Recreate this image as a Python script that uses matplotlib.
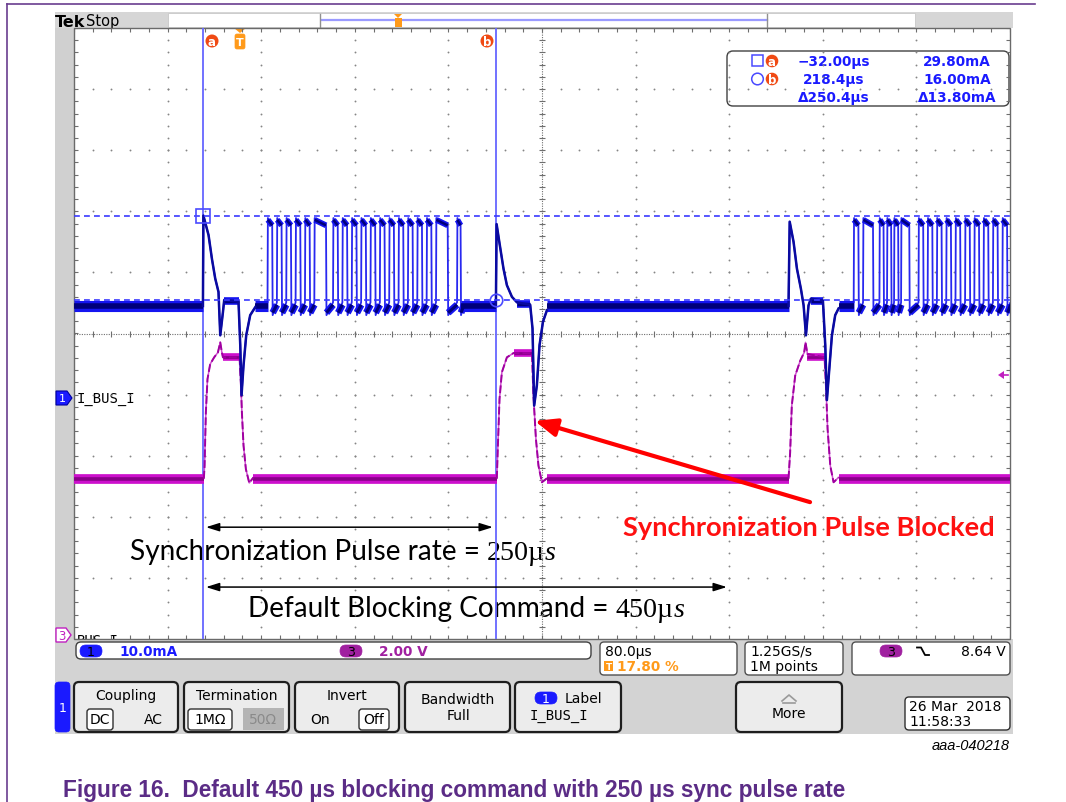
import numpy as np
import matplotlib.pyplot as plt
from matplotlib.patches import Rectangle, FancyBboxPatch, Polygon, Circle

# scope settings taken from the on-screen readouts
T_DIV = 80.0        # us/div
T0 = -142.4         # left edge of the record, us (trigger at 17.80 %)
T1 = T0 + 10 * T_DIV
CH1_DIV = 10.0      # mA/div
CH1_POS = -1.05     # ch1 ground marker, div
CH3_DIV = 2.0       # V/div
CH3_POS = -5.0      # ch3 ground marker, div

cur_a_t, cur_b_t = -32.00, 218.4    # us
cur_a_i, cur_b_i = 29.80, 16.00     # mA

# ch1 (I_BUS_I), current around each synchronization pulse: us, mA
I_BASE = 15.0
pa_t = [-32.2, -31.8, -27.4, -24.5, -21.7, -18.9, -17.4, -15.1, -14.0, -1.8, -0.3, 0.8, 2.5, 4.8, 8.2, 12.5]
pa_i = [15.0, 29.8, 26.6, 22.7, 19.5, 17.3, 10.2, 14.0, 16.0, 15.7, 8.6, 0.4, 5.3, 10.2, 13.5, 14.8]
pb_t = [218.2, 218.8, 221.1, 224.7, 227.6, 231.9, 236.2, 247.5, 249.5, 250.9, 253.2, 255.5, 258.4, 261.8]
pb_i = [15.0, 28.4, 25.5, 21.1, 18.4, 16.5, 15.6, 15.2, 11.3, -1.3, 2.0, 8.6, 12.4, 14.3]
pc_t = [468.3, 469.3, 472.6, 475.5, 478.9, 481.2, 483.2, 485.4, 487.4, 497.7, 499.7, 501.1, 503.4, 505.4, 508.2, 511.1]
pc_i = [15.0, 28.8, 25.5, 21.1, 17.8, 15.1, 10.2, 15.1, 16.2, 15.9, 8.6, -0.4, 5.3, 10.2, 13.5, 14.6]

# bus traffic bursts: rising edges and high time, us
tr1_rise = [23, 31, 39, 47, 55, 63, 79, 87, 95, 103, 111, 119, 127, 135, 143, 151, 159, 167, 185]
tr1_high = [4, 4, 4, 4, 4, 10, 4, 4, 4, 4, 4, 4, 4, 4, 4, 4, 4, 10, 3]
tr2_rise = [524, 532, 546, 552.5, 558.5, 564.5, 579.4, 587.2, 595.1, 603.1, 611, 619.2, 627.1, 635, 643, 651.1]
tr2_high = [4, 8.5, 3.5, 3.5, 3.5, 7, 4, 4, 4, 4, 4, 4, 4, 4, 4, 4]
I_TOP, I_LOW = 29.4, 14.4

# ch3 (BUS_I), voltage around each pulse: us, V
V_BASE = 5.25
ma_t = [-31.4, -30.8, -29.7, -28.3, -26.0, -22.6, -19.4, -17.4, -16.0, -15.1, -0.9, 0.3, 1.1, 2.5, 4.5, 7.4, 11.0]
ma_v = [5.25, 5.67, 7.42, 8.51, 9.0, 9.22, 9.38, 9.71, 9.38, 9.22, 9.22, 8.29, 7.42, 6.33, 5.56, 5.11, 5.29]
mb_t = [219.0, 219.9, 221.3, 223.3, 227.6, 233.3, 249.0, 250.3, 252.4, 254.6, 257.5, 261.8]
mb_v = [5.25, 6.33, 7.86, 8.73, 9.22, 9.36, 9.36, 7.96, 6.55, 5.67, 5.13, 5.26]
mc_t = [468.3, 469.7, 471.1, 474.0, 478.3, 481.7, 482.8, 484.5, 499.1, 500.3, 501.7, 504.0, 506.8, 511.1]
mc_v = [5.25, 6.11, 7.64, 8.62, 9.11, 9.38, 9.71, 9.33, 9.22, 8.29, 6.87, 5.67, 5.13, 5.29]


def d1(i):
    return np.asarray(i, dtype=float) / CH1_DIV + CH1_POS


def d3(v):
    return np.asarray(v, dtype=float) / CH3_DIV + CH3_POS


def burst(rise, high):
    # square bursts: sharp edges, drooping top, undershoot and recovery after the fall
    t, v, tops, lows = [], [], [], []
    for k, (r, w) in enumerate(zip(rise, high)):
        nxt = rise[k + 1] if k + 1 < len(rise) else r + w + 3.0
        t += [r, r + 0.3, r + w, r + w + 0.4, nxt]
        v += [I_LOW + 1.2, I_TOP, I_TOP - 1.2, I_LOW - 0.9, I_LOW + 1.2]
        tops.append((r + 0.3, r + w, I_TOP - 0.3, I_TOP - 1.2))
        lows.append((r + w + 0.4, nxt, I_LOW - 0.5, I_LOW + 0.8))
    return t, v, tops, lows


W, H = 1066, 803
fig = plt.figure(figsize=(W / 100, H / 100), dpi=100)
ui = fig.add_axes([0, 0, 1, 1])
ui.set_xlim(0, W)
ui.set_ylim(H, 0)
ui.axis('off')
R = fig.canvas.get_renderer()

GX0, GX1, GY0, GY1 = 74, 1010, 29, 640
ax = fig.add_axes([GX0 / W, 1 - GY1 / H, (GX1 - GX0) / W, (GY1 - GY0) / H])
ax.set_xlim(T0, T1)
ax.set_ylim(-5, 5)
ax.axis('off')

UI = 'DejaVu Sans'
MONO = 'DejaVu Sans Mono'
BLUE = '#1a1aff'
NAVY = '#00007a'


def rbox(x0, y0, x1, y1, fc='white', ec='#505050', lw=1.0, r=4, z=2):
    ui.add_patch(FancyBboxPatch((x0, y0), x1 - x0, y1 - y0,
                                boxstyle='round,pad=0,rounding_size=%g' % r,
                                fc=fc, ec=ec, lw=lw, zorder=z))


def pill(x, y, txt, fc, tc='black'):
    rbox(x - 11, y - 6, x + 11, y + 6, fc=fc, ec=fc, lw=0.5, r=6, z=4)
    ui.text(x, y + 0.5, txt, ha='center', va='center', fontsize=9, color=tc,
            family=UI, zorder=5)


def runs(x0, x1, y, parts, color='black'):
    arts, x = [], x0
    for s, kw in parts:
        t = ui.text(x, y, s, ha='left', va='baseline', fontsize=10, color=color, zorder=8, **kw)
        arts.append(t)
        x += t.get_window_extent(R).width
    k = (x1 - x0) / (x - x0)
    x = x0
    for t in arts:
        t.set_fontsize(10 * k)
        t.set_x(x)
        x += t.get_window_extent(R).width


def band(segs, conv, outer, inner, w_out, w_in, z):
    for seg in segs:
        a, b, va = seg[:3]
        vb = seg[3] if len(seg) > 3 else va
        ax.plot([a, b], conv([va, vb]), color=outer, lw=w_out, solid_capstyle='butt', zorder=z)
        ax.plot([a, b], conv([va, vb]), color=inner, lw=w_in, solid_capstyle='butt', zorder=z + 0.1)


# ---- frame, panels ----
ui.plot([7, 7], [5, 803], color='#6a3d8f', lw=1.2)
ui.plot([7, 1035], [5, 5], color='#6a3d8f', lw=1.2)
ui.add_patch(Rectangle((55, 13), 958, 16, fc='#d6d6d6', ec='none', zorder=0))
ui.add_patch(Rectangle((55, 29), 19, 611, fc='#d0d0d0', ec='none', zorder=0))
ui.add_patch(Rectangle((GX0, GY0), GX1 - GX0, GY1 - GY0, fc='white', ec='none', zorder=0))
ui.add_patch(Rectangle((55, 640), 958, 95, fc='#d3d3d3', ec='none', zorder=3))
ui.add_patch(Rectangle((168, 14), 747, 14, fc='white', ec='#c8c8c8', lw=0.6, zorder=1))
ui.plot([322, 767], [21, 21], color='#9a9aff', lw=1.6, zorder=2)
ui.plot([320, 320], [15, 28], color='#909090', lw=1.0, zorder=2)
ui.plot([767, 767], [15, 28], color='#909090', lw=1.0, zorder=2)
ui.add_patch(Polygon([[394, 15], [402, 15], [398, 19]], closed=True, fc='#ff9a1a', ec='none', zorder=3))
ui.add_patch(Rectangle((395, 19), 7, 9, fc='#ff9a1a', ec='none', zorder=3))
ui.text(55, 27, 'Tek', fontsize=11.5, weight='bold', family=UI, va='baseline', zorder=4)
ui.text(86, 26, 'Stop', fontsize=10.5, family=UI, va='baseline', zorder=4)

# ---- graticule ----
pxt = (GX1 - GX0) / (T1 - T0)      # px per us
pxd = (GY1 - GY0) / 10.0           # px per div
GRID = '#858585'
yy = np.arange(-5, 5.001, 0.2)
xx = T0 + np.arange(0, 10.001, 0.2) * T_DIV
tc = T0 + 5 * T_DIV
for k in range(1, 10):
    if k != 5:
        ax.scatter(np.full_like(yy, T0 + k * T_DIV), yy, s=1.8, c=GRID, lw=0, zorder=1)
for d in range(-4, 5):
    if d != 0:
        ax.scatter(xx, np.full_like(xx, d), s=1.8, c=GRID, lw=0, zorder=1)
ax.axhline(0, color='#6e6e6e', lw=0.8, ls=(0, (1, 1.2)), zorder=1)
ax.axvline(tc, color='#6e6e6e', lw=0.8, ls=(0, (1, 1.2)), zorder=1)
ax.vlines(xx, -3 / pxd, 3 / pxd, color='#6e6e6e', lw=0.8, zorder=1)
ax.hlines(yy, tc - 3 / pxt, tc + 3 / pxt, color='#6e6e6e', lw=0.8, zorder=1)
ax.vlines(xx, 5 - 4 / pxd, 5, color='#6e6e6e', lw=0.8, zorder=1)
ax.vlines(xx, -5, -5 + 4 / pxd, color='#6e6e6e', lw=0.8, zorder=1)
ax.hlines(yy, T0, T0 + 4 / pxt, color='#6e6e6e', lw=0.8, zorder=1)
ax.hlines(yy, T1 - 4 / pxt, T1, color='#6e6e6e', lw=0.8, zorder=1)
ax.add_patch(Rectangle((T0, -5), T1 - T0, 10, fill=False, ec='#6a6a6a', lw=1.0, zorder=2, clip_on=False))

# ---- cursors ----
ax.vlines([cur_a_t, cur_b_t], -5, 5, color='#6666ff', lw=1.3, zorder=2)

# ---- ch3 trace ----
t3 = [T0] + ma_t + mb_t + mc_t + [T1]
v3 = [V_BASE] + ma_v + mb_v + mc_v + [V_BASE]
ax.plot(t3, d3(v3), color='#d050d0', lw=1.1, zorder=3)
band([(T0, -31.4, V_BASE), (11.0, 219.0, V_BASE), (261.8, 468.3, V_BASE), (511.1, T1, V_BASE)],
     d3, '#cc10cc', '#8a008a', 7.0, 2.6, 3)
band([(-15.1, -0.9, 9.22), (233.3, 249.0, 9.36), (484.5, 499.1, 9.22)],
     d3, '#cc10cc', '#8a008a', 5.5, 2.0, 3)
for pt, pv in [(ma_t, ma_v), (mb_t, mb_v), (mc_t, mc_v)]:
    ax.plot(pt, d3(pv), color='#a000a0', lw=1.4, ls=(0, (4, 1.5)), zorder=3.2)

# ---- ch1 trace ----
b1t, b1v, tops1, lows1 = burst(tr1_rise, tr1_high)
b2t, b2v, tops2, lows2 = burst(tr2_rise, tr2_high)
t1 = [T0] + pa_t + b1t + pb_t + pc_t + b2t + [T1]
i1 = [I_BASE] + pa_i + b1v + pb_i + pc_i + b2v + [I_BASE]
ax.plot(t1, d1(i1), color='#2828f0', lw=1.3, zorder=4)
band([(T0, -32.2, I_BASE), (12.5, 23.0, I_BASE), (188.0, 218.2, I_BASE),
      (261.8, 468.3, I_BASE), (511.1, 524.0, I_BASE)], d1, '#1515f0', NAVY, 8.0, 4.0, 4)
band([(-14.0, -1.8, 15.8), (236.2, 247.5, 15.3), (487.4, 497.7, 15.9)], d1, '#1515f0', NAVY, 5.5, 2.5, 4)
band(tops1 + tops2, d1, '#1515f0', NAVY, 4.2, 1.8, 4)
band(lows1 + lows2, d1, '#1515f0', NAVY, 5.0, 2.2, 4)
for pt, pi in [(pa_t, pa_i), (pb_t, pb_i), (pc_t, pc_i)]:
    ax.plot(pt, d1(pi), color='#0a0aa0', lw=1.8, zorder=4.2)

# horizontal cursor levels
ax.hlines(d1([cur_a_i, cur_b_i]), T0, T1, color='#3a3aff', lw=1.2, ls=(0, (3.5, 2.5)), zorder=6)
ax.plot([cur_a_t], d1([cur_a_i]), marker='s', ms=10, mfc='none', mec='#4a4aff', mew=1.2, zorder=7)
ax.plot([cur_b_t], d1([cur_b_i]), marker='o', ms=9, mfc='none', mec='#4a4aff', mew=1.2, zorder=7)

# ---- annotations ----
ax.annotate('', xy=(cur_a_t, -3.17), xytext=(cur_a_t + 250, -3.17), zorder=8,
            arrowprops=dict(arrowstyle='<|-|>,head_length=0.8,head_width=0.25', color='black', lw=1.1))
ax.annotate('', xy=(cur_a_t, -4.15), xytext=(cur_a_t + 450, -4.15), zorder=8,
            arrowprops=dict(arrowstyle='<|-|>,head_length=0.8,head_width=0.25', color='black', lw=1.1))
ax.annotate('', xy=(251.3, -1.43), xytext=(486.7, -2.76), zorder=8, annotation_clip=False,
            arrowprops=dict(arrowstyle='-|>,head_length=1.1,head_width=0.45', color='#ff0000',
                            lw=3.0, mutation_scale=12, shrinkA=0, shrinkB=0))

runs(130, 557, 560, [('Synchronization Pulse rate = ', dict(family='Lato')),
                     ('250\u00b5', dict(family='Liberation Serif')),
                     ('s', dict(family='Liberation Serif', style='italic'))])
runs(248, 685, 617, [('Default Blocking Command = ', dict(family='Lato')),
                     ('450\u00b5', dict(family='Liberation Serif')),
                     ('s', dict(family='Liberation Serif', style='italic'))])
runs(623, 997, 536, [('Synchronization Pulse Blocked', dict(family='Lato', weight='bold'))], color='#ff1010')

# ---- markers on the graticule ----
for x, s in [(212, 'a'), (487, 'b')]:
    ui.add_patch(Circle((x, 42), 6.5, fc='#f04a14', ec='none', zorder=6))
    ui.text(x, 42.5, s, ha='center', va='center', color='white', fontsize=8.5, weight='bold', family=UI, zorder=7)
ui.add_patch(Polygon([[234, 29], [246, 29], [240, 34]], closed=True, fc='#ff9a1a', ec='none', zorder=6))
rbox(235, 35, 245, 50, fc='#ff9a1a', ec='#ff9a1a', lw=0.5, r=2, z=6)
ui.text(240, 43, 'T', ha='center', va='center', color='white', fontsize=8, weight='bold', family=UI, zorder=7)

ui.add_patch(Polygon([[56, 392], [67, 392], [72, 399], [67, 406], [56, 406]], closed=True,
                     fc=BLUE, ec='#0000a0', lw=0.8, zorder=6))
ui.text(62, 399.5, '1', ha='center', va='center', color='white', fontsize=8, family=UI, zorder=7)
ui.text(77, 399, 'I_BUS_I', va='center', fontsize=10, family=MONO, zorder=7)
ui.add_patch(Polygon([[56, 629], [66, 629], [71, 636], [66, 643], [56, 643]], closed=True,
                     fc='white', ec='#c020c0', lw=1.0, zorder=6))
ui.text(61.5, 636.5, '3', ha='center', va='center', color='#c020c0', fontsize=8.5, family=UI, zorder=7)
ui.text(77, 645, 'BUS_I', va='baseline', fontsize=10, family=MONO, zorder=2)
ui.add_patch(Polygon([[998, 376], [1004, 372], [1004, 380]], closed=True, fc='#c020c0', ec='none', zorder=6))
ui.plot([1003, 1008], [376, 376], color='#c020c0', lw=1.2, zorder=6)

# ---- cursor readout ----
rbox(727, 52, 1009, 107, fc='white', ec='#404040', lw=1.0, r=6, z=6)
ui.add_patch(Rectangle((752, 56), 11, 11, fill=False, ec='#4a4aff', lw=1.1, zorder=7))
ui.add_patch(Circle((757.5, 80), 5.8, fill=False, ec='#4a4aff', lw=1.1, zorder=7))
for y, s in [(62, 'a'), (80, 'b')]:
    ui.add_patch(Circle((772, y), 6.3, fc='#f04a14', ec='none', zorder=7))
    ui.text(772, y + 0.5, s, ha='center', va='center', color='white', fontsize=8.5, weight='bold', family=UI, zorder=8)
for y, s1, s2 in [(62, '\u221232.00\u00b5s', '29.80mA'), (80, '218.4\u00b5s', '16.00mA'),
                  (98, '\u0394250.4\u00b5s', '\u039413.80mA')]:
    ui.text(834, y, s1, ha='center', va='center', color=BLUE, fontsize=9.8, weight='bold', family=UI, zorder=8)
    ui.text(957, y, s2, ha='center', va='center', color=BLUE, fontsize=9.8, weight='bold', family=UI, zorder=8)

# ---- status bar ----
rbox(76, 643, 591, 660, fc='white', ec='#404040', lw=1.0, r=5, z=4)
pill(91, 652, '1', BLUE)
ui.text(119, 652, '10.0mA', va='center', color=BLUE, fontsize=9.8, weight='bold', family=UI, zorder=5)
pill(351, 652, '3', '#a020a0')
ui.text(379, 652, '2.00 V', va='center', color='#a020a0', fontsize=9.8, weight='bold', family=UI, zorder=5)
rbox(600, 643, 737, 676, z=4)
ui.text(605, 652, '80.0\u00b5s', va='center', fontsize=10, family=UI, zorder=5)
ui.add_patch(Rectangle((604, 662), 9, 10, fc='#ff9a1a', ec='none', zorder=5))
ui.text(608.5, 667.5, 'T', ha='center', va='center', color='white', fontsize=6.5, weight='bold', family=UI, zorder=6)
ui.text(617, 667.5, '17.80 %', va='center', color='#ff9a1a', fontsize=9.8, weight='bold', family=UI, zorder=5)
rbox(745, 643, 843, 676, z=4)
ui.text(750, 652, '1.25GS/s', va='center', fontsize=10, family=UI, zorder=5)
ui.text(750, 667, '1M points', va='center', fontsize=10, family=UI, zorder=5)
rbox(852, 643, 1010, 676, z=4)
pill(891, 652, '3', '#a020a0')
ui.plot([917, 921, 925, 929], [648.5, 648.5, 656, 656], color='black', lw=1.3, zorder=5)
ui.text(1006, 652, '8.64 V', ha='right', va='center', fontsize=10, family=UI, zorder=5)

# ---- soft-key buttons ----
rbox(55, 683, 70, 733, fc=BLUE, ec=BLUE, lw=0.5, r=4, z=4)
ui.text(62.5, 709, '1', ha='center', va='center', color='white', fontsize=9, family=UI, zorder=5)
BTN = dict(fc='#ececec', ec='#1e1e1e', lw=1.6, r=5, z=4)
for x0, x1 in [(74, 178), (184, 289), (295, 399), (405, 510), (515, 621), (736, 842)]:
    rbox(x0, 683, x1, 733, **BTN)
ui.text(126, 696, 'Coupling', ha='center', va='center', fontsize=10, family=UI, zorder=5)
rbox(87, 710, 113, 731, fc='white', ec='#303030', lw=1.0, r=3, z=5)
ui.text(100, 720.5, 'DC', ha='center', va='center', fontsize=10, family=UI, zorder=6)
ui.text(153, 720.5, 'AC', ha='center', va='center', fontsize=10, family=UI, zorder=6)
ui.text(237, 696, 'Termination', ha='center', va='center', fontsize=10, family=UI, zorder=5)
rbox(188, 710, 232, 731, fc='white', ec='#303030', lw=1.0, r=3, z=5)
ui.text(210, 720.5, '1M\u03a9', ha='center', va='center', fontsize=10, family=UI, zorder=6)
ui.add_patch(Rectangle((243, 709), 41, 22, fc='#b4b4b4', ec='none', zorder=5))
ui.text(263.5, 720.5, '50\u03a9', ha='center', va='center', color='#8a8a8a', fontsize=10, family=UI, zorder=6)
ui.text(347, 696, 'Invert', ha='center', va='center', fontsize=10, family=UI, zorder=5)
ui.text(320, 720.5, 'On', ha='center', va='center', fontsize=10, family=UI, zorder=6)
rbox(359, 710, 389, 731, fc='white', ec='#303030', lw=1.0, r=3, z=5)
ui.text(374, 720.5, 'Off', ha='center', va='center', fontsize=10, family=UI, zorder=6)
ui.text(458, 700, 'Bandwidth', ha='center', va='center', fontsize=10, family=UI, zorder=5)
ui.text(458, 716, 'Full', ha='center', va='center', fontsize=10, family=UI, zorder=5)
pill(546, 699, '1', BLUE, tc='white')
ui.text(565, 699, 'Label', va='center', fontsize=10, family=UI, zorder=5)
ui.text(559, 716, 'I_BUS_I', ha='center', va='center', fontsize=10, family=MONO, zorder=5)
ui.plot([782, 789, 796], [702, 696, 702], color='#9a9a9a', lw=1.2, zorder=5)
ui.plot([783, 795], [704, 704], color='#9a9a9a', lw=1.2, zorder=5)
ui.text(789, 714, 'More', ha='center', va='center', fontsize=10, family=UI, zorder=5)
rbox(905, 698, 1010, 731, fc='white', ec='#303030', lw=1.0, r=4, z=4)
ui.text(909, 707, '26 Mar  2018', va='center', fontsize=10, family=UI, zorder=5)
ui.text(909, 722, '11:58:33', va='center', fontsize=10, family=UI, zorder=5)

ui.text(1010, 746, 'aaa-040218', ha='right', va='center', fontsize=10.5, style='italic',
        family='Liberation Sans', zorder=5)
runs(63, 848, 797, [('Figure 16.  Default 450 \u00b5s blocking command with 250 \u00b5s sync pulse rate',
                     dict(family='Liberation Sans', weight='bold'))], color='#5b2c86')

fig.savefig('out.png', dpi=100)
